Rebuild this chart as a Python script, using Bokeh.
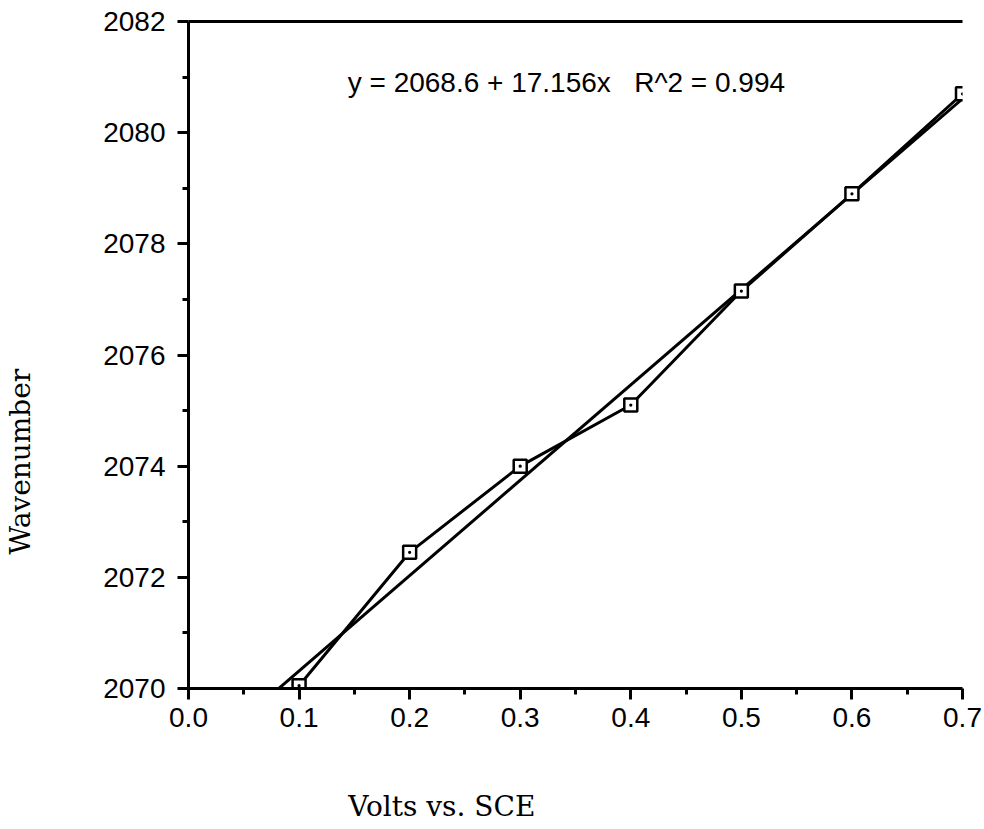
import numpy as np
from bokeh.plotting import figure
from bokeh.models import Range1d, FixedTicker, Label, LinearAxis
from bokeh.embed import file_html
from bokeh.resources import INLINE

# ---- data ----
volts = [0.1, 0.2, 0.3, 0.4, 0.5, 0.6, 0.7]
wavenumber = [2070.05, 2072.45, 2074.0, 2075.1, 2077.15, 2078.9, 2080.7]
fit_intercept = 2068.6
fit_slope = 17.156
fit_x = [0.0, 0.7]
equation_text = "y = 2068.6 + 17.156x\u00a0\u00a0\u00a0R^2 = 0.994"
x_ticks = [0.0, 0.1, 0.2, 0.3, 0.4, 0.5, 0.6, 0.7]
x_tick_labels = ["0.0", "0.1", "0.2", "0.3", "0.4", "0.5", "0.6", "0.7"]
x_minor = [0.05, 0.15, 0.25, 0.35, 0.45, 0.55, 0.65]
y_ticks = [2070, 2072, 2074, 2076, 2078, 2080, 2082]
y_tick_labels = ["2070", "2072", "2074", "2076", "2078", "2080", "2082"]
y_minor = [2071, 2073, 2075, 2077, 2079, 2081]
x_label = "Volts vs. SCE"
y_label = "Wavenumber"

fit_y = [fit_intercept + fit_slope * v for v in fit_x]

p = figure(width=984, height=829, output_backend="svg", toolbar_location=None,
           x_range=Range1d(0, 0.7), y_range=Range1d(2070, 2082),
           min_border_left=188, min_border_right=22, min_border_top=21,
           min_border_bottom=141)
p.outline_line_color = None
p.grid.visible = False
p.background_fill_color = "white"
p.border_fill_color = "white"

tick_font = "Liberation Sans"
for ax, ticks, minor, labels in ((p.xaxis[0], x_ticks, x_minor, x_tick_labels),
                                 (p.yaxis[0], y_ticks, y_minor, y_tick_labels)):
    ax.ticker = FixedTicker(ticks=ticks, minor_ticks=minor)
    ax.major_label_overrides = {t: l for t, l in zip(ticks, labels)}
    ax.axis_line_width = 3
    ax.axis_line_color = "black"
    ax.major_tick_line_width = 3
    ax.minor_tick_line_width = 3
    ax.major_tick_in = 0
    ax.major_tick_out = 11
    ax.minor_tick_in = 0
    ax.minor_tick_out = 6
    ax.major_label_text_font = tick_font
    ax.major_label_text_font_size = "28px"
    ax.major_label_text_color = "black"
p.xaxis[0].major_label_standoff = 8
p.yaxis[0].major_label_standoff = 12

top = LinearAxis(ticker=FixedTicker(ticks=[]), axis_line_width=3,
                 axis_line_color="black", major_tick_line_color=None,
                 minor_tick_line_color=None, major_label_text_font_size="0px")
p.add_layout(top, "above")

p.line(volts, wavenumber, line_color="black", line_width=3)
p.line(fit_x, fit_y, line_color="black", line_width=3)
p.scatter(volts, wavenumber, marker="square_dot", size=13, line_color="black",
          line_width=2.5, fill_color="white")

p.add_layout(Label(x=0.144, y=2080.9, text=equation_text, text_font=tick_font,
                   text_font_size="28px", text_color="black",
                   text_align="left", text_baseline="middle"))


# axis titles: placed as the single tick label of an otherwise invisible axis
def title_axis(pos, text, standoff, orientation="horizontal"):
    return LinearAxis(ticker=FixedTicker(ticks=[pos], minor_ticks=[]),
                      major_label_overrides={pos: text},
                      axis_line_color=None, major_tick_line_color=None,
                      minor_tick_line_color=None, major_tick_in=0,
                      major_tick_out=0, minor_tick_in=0, minor_tick_out=0,
                      major_label_standoff=standoff,
                      major_label_orientation=orientation,
                      major_label_text_font="DejaVu Serif",
                      major_label_text_font_size="28px",
                      major_label_text_color="black")


p.add_layout(title_axis(0.2291, x_label, 60), "below")
p.add_layout(title_axis(2074.08, y_label, 63, "vertical"), "left")

open("out.html", "w").write(file_html(p, INLINE))
